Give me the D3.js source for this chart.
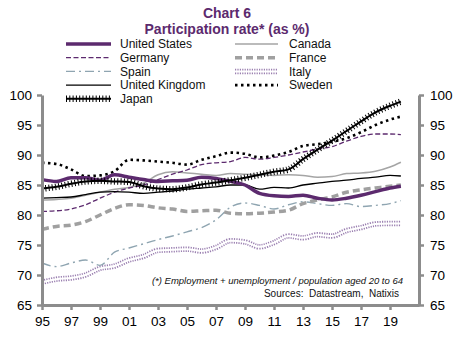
<!DOCTYPE html>
<html>
<head>
<meta charset="utf-8">
<script src="https://cdn.jsdelivr.net/npm/d3@7"></script>
<style>
  body { margin: 0; background: #fff; }
  svg { display: block; font-family: Arial, "Liberation Sans", sans-serif; }
</style>
</head>
<body>
<svg id="chart" width="468" height="342"></svg>
<script>
// Data (participation rate, % of population aged 20 to 64)
var years = [1995, 1996, 1997, 1998, 1999, 2000, 2001, 2002, 2003, 2004, 2005, 2006, 2007,
             2008, 2009, 2010, 2011, 2012, 2013, 2014, 2015, 2016, 2017, 2018, 2019, 2019.75];

var unitedStates = [85.9, 85.6, 86.2, 86.2, 85.8, 86.7, 86.3, 85.9, 85.6, 85.7, 85.8, 86.3, 86.1,
                    85.6, 85.0, 83.6, 83.2, 83.1, 83.3, 82.8, 82.5, 82.8, 83.3, 83.9, 84.5, 84.8];
var germany = [80.6, 80.7, 81.0, 81.7, 82.8, 83.8, 84.5, 85.0, 85.9, 86.8, 87.5, 88.4, 88.7,
               88.9, 89.6, 89.3, 89.6, 90.0, 90.5, 91.0, 91.4, 92.3, 93.1, 93.5, 93.5, 93.4];
var spain = [72.0, 71.4, 72.0, 72.5, 71.6, 73.8, 74.5, 75.2, 75.9, 76.5, 77.2, 77.9, 79.2,
             81.3, 82.0, 81.6, 81.0, 81.7, 82.2, 81.9, 81.6, 81.9, 81.4, 81.6, 81.9, 82.4];
var unitedKingdom = [82.8, 82.9, 83.0, 83.4, 83.8, 83.9, 83.8, 83.6, 83.8, 84.0, 84.3, 84.5, 84.7,
                     85.0, 85.0, 84.3, 84.6, 84.5, 85.0, 85.3, 85.6, 85.8, 86.1, 86.3, 86.6, 86.5];
var japan = [84.4, 84.7, 85.2, 85.6, 85.7, 85.6, 85.5, 84.8, 84.4, 84.3, 84.6, 85.1, 85.4,
             85.8, 86.2, 86.7, 87.2, 87.6, 89.3, 90.9, 92.4, 94.0, 95.6, 97.1, 98.2, 98.9];
var canada = [82.5, 82.6, 82.8, 83.3, 83.8, 84.3, 84.6, 85.3, 86.7, 87.2, 87.0, 86.8, 86.6,
              86.9, 86.8, 86.7, 86.6, 86.7, 86.6, 86.3, 86.4, 86.9, 87.0, 87.3, 88.0, 88.8];
var france = [77.6, 78.1, 78.3, 78.9, 80.0, 81.1, 81.7, 81.6, 81.2, 81.0, 80.6, 80.7, 80.8,
              80.3, 80.2, 80.3, 80.5, 80.8, 81.9, 82.5, 83.0, 83.8, 84.2, 84.5, 84.8, 85.0];
var italy = [68.8, 69.3, 69.5, 70.0, 71.1, 71.5, 72.5, 73.1, 74.1, 74.2, 74.3, 74.0, 74.6,
             75.7, 75.5, 74.7, 75.4, 76.5, 76.2, 76.7, 76.5, 77.4, 77.9, 78.5, 78.6, 78.6];
var sweden = [88.7, 88.5, 87.6, 86.5, 86.6, 87.3, 89.2, 89.1, 88.9, 88.7, 88.4, 89.2, 89.8,
              90.4, 90.2, 89.6, 89.9, 90.5, 91.5, 91.8, 92.2, 92.8, 93.8, 95.0, 95.9, 96.4];

var yTicks = [65, 70, 75, 80, 85, 90, 95, 100];
var xTicks = [1995, 1997, 1999, 2001, 2003, 2005, 2007, 2009, 2011, 2013, 2015, 2017, 2019];

var purple = '#5c2a6e';
var axisGrey = '#8c8c8c';

var svg = d3.select('#chart');

var x = d3.scaleLinear().domain([1995, 2021]).range([42, 419]);
var y = d3.scaleLinear().domain([65, 100]).range([305, 95]);

// Title
svg.append('text')
   .attr('x', 227).attr('y', 18)
   .attr('text-anchor', 'middle')
   .attr('font-size', 14).attr('font-weight', 'bold')
   .attr('fill', purple)
   .text('Chart 6');
svg.append('text')
   .attr('x', 227).attr('y', 34)
   .attr('text-anchor', 'middle')
   .attr('font-size', 14).attr('font-weight', 'bold')
   .attr('fill', purple)
   .text('Participation rate* (as %)');

// Series styles
var series = [
  { name: 'Italy', values: italy, kind: 'italy' },
  { name: 'Spain', values: spain, stroke: '#8fa5b1', width: 1.4, dash: '9,4,2,4' },
  { name: 'France', values: france, stroke: '#a0a0a0', width: 3.5, dash: '7,4' },
  { name: 'Canada', values: canada, stroke: '#a5a5a5', width: 1.5 },
  { name: 'Germany', values: germany, stroke: purple, width: 1.3, dash: '5,2.5' },
  { name: 'Sweden', values: sweden, stroke: '#000', width: 2.6, dash: '2.5,3.5' },
  { name: 'United Kingdom', values: unitedKingdom, stroke: '#000', width: 1.3 },
  { name: 'United States', values: unitedStates, stroke: purple, width: 3.5 },
  { name: 'Japan', values: japan, kind: 'japan' }
];

var line = d3.line()
   .x(function(d, i) { return x(years[i]); })
   .y(function(d) { return y(d); })
   .curve(d3.curveMonotoneX);

function drawStyled(g, s, pathData) {
  if (s.kind === 'italy') {
    g.append('path').attr('d', pathData).attr('fill', 'none')
     .attr('stroke', '#9a7fb0').attr('stroke-width', 5.5).attr('stroke-dasharray', '1.2,1.2');
    g.append('path').attr('d', pathData).attr('fill', 'none')
     .attr('stroke', '#fff').attr('stroke-width', 2);
  } else if (s.kind === 'japan') {
    g.append('path').attr('d', pathData).attr('fill', 'none')
     .attr('stroke', '#000').attr('stroke-width', 2);
    g.append('path').attr('d', pathData).attr('fill', 'none')
     .attr('stroke', '#000').attr('stroke-width', 6.5).attr('stroke-dasharray', '1,2.3');
  } else {
    g.append('path').attr('d', pathData).attr('fill', 'none')
     .attr('stroke', s.stroke).attr('stroke-width', s.width)
     .attr('stroke-dasharray', s.dash || null);
  }
}

var plot = svg.append('g');
series.forEach(function(s) {
  drawStyled(plot, s, line(s.values));
});

// Axes
function styleAxis(g) {
  g.select('.domain').attr('stroke', axisGrey).attr('stroke-width', 3);
  g.selectAll('.tick line').attr('stroke', axisGrey).attr('stroke-width', 2.5);
  g.selectAll('.tick text').attr('fill', '#000').attr('font-size', 13.5)
   .attr('font-family', 'Arial, "Liberation Sans", sans-serif');
}

svg.append('g')
   .attr('transform', 'translate(42,0)')
   .call(d3.axisLeft(y).tickValues(yTicks).tickSize(5).tickSizeOuter(0).tickPadding(5))
   .call(styleAxis);

svg.append('g')
   .attr('transform', 'translate(419,0)')
   .call(d3.axisRight(y).tickValues(yTicks).tickSize(5).tickSizeOuter(0).tickPadding(6))
   .call(styleAxis);

svg.append('g')
   .attr('transform', 'translate(0,305)')
   .call(d3.axisBottom(x).tickValues(xTicks).tickSize(5).tickSizeOuter(0).tickPadding(6)
           .tickFormat(function(d) { return d3.format('02d')(d % 100); }))
   .call(styleAxis);

// Legend
var legendRows = [
  ['United States', 'Canada'],
  ['Germany', 'France'],
  ['Spain', 'Italy'],
  ['United Kingdom', 'Sweden'],
  ['Japan', null]
];
var legendCols = [{ x0: 66, x1: 111, tx: 120 }, { x0: 235, x1: 278, tx: 289 }];
var byName = {};
series.forEach(function(s) { byName[s.name] = s; });

legendRows.forEach(function(row, r) {
  var cy = 44 + r * 13.7;
  row.forEach(function(name, c) {
    if (!name) return;
    var col = legendCols[c];
    var g = svg.append('g');
    drawStyled(g, byName[name], 'M' + col.x0 + ',' + cy + 'H' + col.x1);
    svg.append('text')
       .attr('x', col.tx).attr('y', cy + 4.2)
       .attr('font-size', 12).attr('fill', '#111')
       .text(name);
  });
});

// Notes
svg.append('text')
   .attr('x', 403).attr('y', 284)
   .attr('text-anchor', 'end')
   .attr('font-size', 9.5).attr('font-style', 'italic').attr('fill', '#111')
   .text('(*) Employment + unemployment / population aged 20 to 64');
svg.append('text')
   .attr('x', 399).attr('y', 297)
   .attr('text-anchor', 'end')
   .attr('font-size', 10).attr('fill', '#111')
   .attr('xml:space', 'preserve')
   .text('Sources:  Datastream,  Natixis');
</script>
</body>
</html>
